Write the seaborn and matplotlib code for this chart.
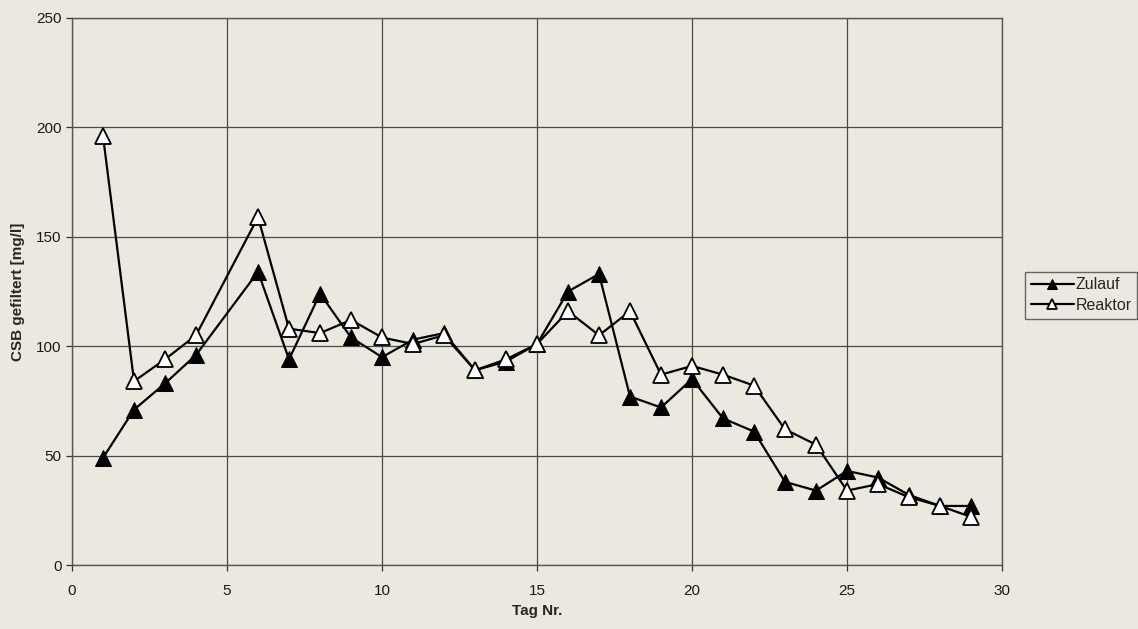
import matplotlib
matplotlib.use("Agg")
import matplotlib.pyplot as plt
import seaborn as sns
import pandas as pd

days = [1, 2, 3, 4, 6, 7, 8, 9, 10, 11, 12, 13, 14, 15, 16, 17, 18, 19, 20,
        21, 22, 23, 24, 25, 26, 27, 28, 29]
zulauf = [49, 71, 83, 96, 134, 94, 124, 104, 95, 103, 106, 89, 93, 101, 125,
          133, 77, 72, 85, 67, 61, 38, 34, 43, 40, 32, 27, 27]
reaktor = [196, 84, 94, 105, 159, 108, 106, 112, 104, 101, 105, 89, 94, 101,
           116, 105, 116, 87, 91, 87, 82, 62, 55, 34, 37, 31, 27, 22]

df = pd.DataFrame({"Tag": days * 2,
                   "CSB": zulauf + reaktor,
                   "Serie": ["Zulauf"] * len(days) + ["Reaktor"] * len(days)})

sns.set_theme(style="white")
plt.rcParams['font.family'] = ['Liberation Sans', 'DejaVu Sans']

bg = "#ebe9df"
fig = plt.figure(figsize=(11.38, 6.29), dpi=100, facecolor=bg)
ax = fig.add_axes([0.0633, 0.1017, 0.8172, 0.8697])
ax.set_facecolor(bg)

sns.lineplot(data=df[df.Serie == "Zulauf"], x="Tag", y="CSB", ax=ax,
             color="black", marker="^", markersize=11, markerfacecolor="black",
             markeredgecolor="black", linewidth=1.6, label="Zulauf", zorder=3)
sns.lineplot(data=df[df.Serie == "Reaktor"], x="Tag", y="CSB", ax=ax,
             color="black", marker="^", markersize=11, markerfacecolor="white",
             markeredgecolor="black", markeredgewidth=1.3, linewidth=1.6,
             label="Reaktor", zorder=4)

ax.set_xlim(0, 30)
ax.set_ylim(0, 250)
ax.set_xticks(range(0, 31, 5))
ax.set_yticks(range(0, 251, 50))
ax.grid(True, color="#4a4a4a", linewidth=0.9)
ax.set_axisbelow(True)
for s in ax.spines.values():
    s.set_color("#555555")
    s.set_linewidth(1.0)
ax.tick_params(axis="both", direction="out", length=4, width=0.9,
               color="#333333", labelsize=11, labelcolor="#1a1a1a",
               bottom=True, left=True)
ax.tick_params(axis="x", pad=10)
ax.set_xlabel("Tag Nr.", fontsize=11, fontweight="bold", labelpad=4)
ax.set_ylabel("CSB gefiltert [mg/l]", fontsize=11, fontweight="bold", labelpad=8)

leg = ax.legend(loc="upper left", bbox_to_anchor=(1.025, 0.536), frameon=True,
                fancybox=False, edgecolor="#444444", facecolor=bg,
                fontsize=11.5, handlelength=2.7, handletextpad=0.1,
                borderpad=0.35, labelspacing=0.35, borderaxespad=0)
leg.get_frame().set_linewidth(1.0)
for h in leg.legend_handles:
    h.set_markersize(7)

fig.savefig("out.png", dpi=100, facecolor=bg)
